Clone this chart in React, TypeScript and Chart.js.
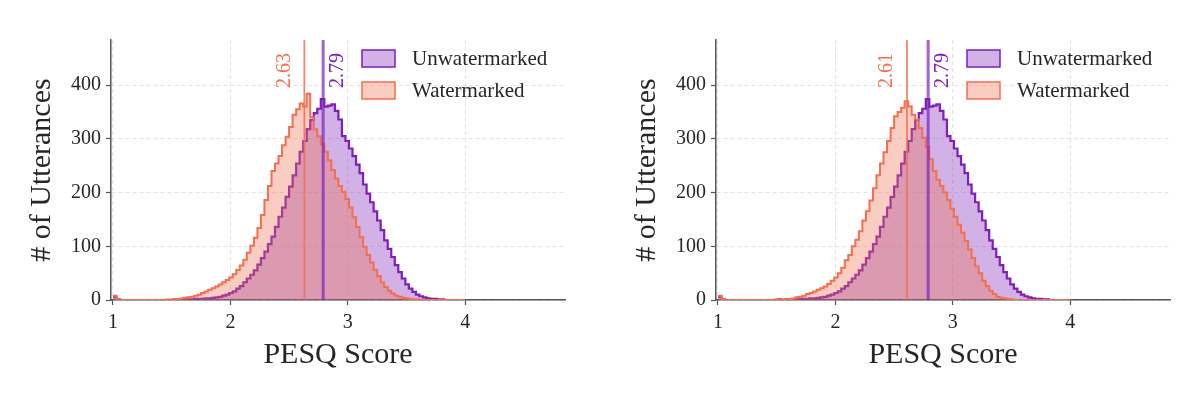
import React, { useEffect, useRef } from 'react';
import { Chart, registerables } from 'chart.js';

Chart.register(...registerables);

// ---- data ----
const BIN_START = 1.0;
const BIN_WIDTH = 0.03;

// counts per bin (bins of 0.03 starting at 1.00)
const UNWATERMARKED = [
  6, 1, 0, 0, 0, 0, 0, 0, 0, 0,
  0, 0, 0, 0, 0, 0, 0, 1, 0, 1,
  1, 1, 1, 2, 2, 2, 3, 3, 4, 5,
  6, 8, 10, 13, 16, 21, 26, 33, 40, 47,
  55, 66, 78, 90, 104, 118, 136, 155, 172, 192,
  211, 232, 254, 276, 296, 318, 335, 348, 356, 374,
  360, 362, 364, 352, 336, 305, 296, 282, 268, 252,
  236, 215, 198, 182, 165, 148, 130, 111, 95, 80,
  65, 52, 40, 29, 21, 15, 10, 7, 5, 3,
  2, 2, 1, 1, 0, 0, 0, 0, 0, 0,
];

const WATERMARKED_A = [
  8, 1, 0, 0, 0, 0, 0, 0, 0, 0,
  0, 0, 0, 0, 0, 1, 1, 2, 2, 3,
  4, 5, 6, 8, 10, 13, 16, 19, 22, 25,
  29, 33, 37, 42, 48, 56, 64, 75, 88, 101,
  116, 134, 158, 186, 212, 240, 254, 268, 288, 304,
  322, 345, 355, 366, 360, 384, 340, 318, 305, 290,
  276, 260, 242, 226, 212, 201, 188, 172, 154, 136,
  117, 99, 84, 70, 56, 44, 33, 24, 17, 12,
  8, 6, 4, 3, 2, 1, 1, 0, 0, 0,
  0, 0, 0, 0, 0, 0, 0, 0, 0, 0,
];

const WATERMARKED_B = [
  8, 1, 0, 0, 0, 0, 0, 0, 0, 0,
  0, 0, 0, 0, 0, 0, 1, 1, 1, 2,
  2, 3, 5, 6, 8, 11, 13, 16, 19, 22,
  25, 30, 36, 42, 50, 60, 74, 84, 100, 112,
  128, 148, 165, 185, 208, 232, 254, 275, 296, 320,
  342, 350, 358, 370, 360, 345, 336, 320, 302, 285,
  262, 240, 224, 212, 200, 186, 170, 155, 140, 125,
  110, 94, 78, 63, 50, 36, 26, 17, 11, 6,
  4, 3, 2, 1, 0, 0, 0, 0, 0, 0,
  0, 0, 0, 0, 0, 0, 0, 0, 0, 0,
];

const MEAN_UNWM = 2.79;
const MEAN_WM_A = 2.63;
const MEAN_WM_B = 2.61;

const X_TICKS = [1, 2, 3, 4];
const Y_TICKS = [0, 100, 200, 300, 400];
const X_MIN = 0.983;
const X_MAX = 4.85;
const Y_MIN = 0;
const Y_MAX = 484;

const LABEL_UNWM = 'Unwatermarked';
const LABEL_WM = 'Watermarked';
const X_TITLE = 'PESQ Score';
const Y_TITLE = '# of Utterances';

// ---- styles ----
const FONT = "'Liberation Serif', 'Times New Roman', serif";
const PURPLE = '#7E1FB8';
const PURPLE_FILL = 'rgba(126,31,184,0.35)';
const ORANGE = '#F07050';
const ORANGE_FILL = 'rgba(240,112,80,0.35)';
const TEXT = '#262626';
const SPINE = '#555555';
const GRID = 'rgba(0,0,0,0.11)';

const CANVAS_W = 600;
const CANVAS_H = 413;
const PLOT_W = 454;
const PLOT_TOP = 40;
const X_AXIS_H = 113;

function histPoints(values: number[]) {
  const pts = values.map((v, i) => ({ x: +(BIN_START + i * BIN_WIDTH).toFixed(4), y: v }));
  pts.push({ x: +(BIN_START + values.length * BIN_WIDTH).toFixed(4), y: 0 });
  return pts;
}

function makeOverlay(wmMean: number) {
  return {
    id: 'overlay',
    afterDraw(chart: any) {
      const { ctx, chartArea, scales } = chart;
      const xs = scales.x;
      // mean labels
      const labels = [
        { v: wmMean, dx: -20, color: ORANGE },
        { v: MEAN_UNWM, dx: 15, color: PURPLE },
      ];
      for (const l of labels) {
        const x = xs.getPixelForValue(l.v) + l.dx;
        const y = chartArea.top + 48;
        ctx.save();
        ctx.translate(x, y);
        ctx.rotate(-Math.PI / 2);
        ctx.font = `20px ${FONT}`;
        ctx.fillStyle = l.color;
        ctx.textAlign = 'left';
        ctx.textBaseline = 'middle';
        ctx.fillText(l.v.toFixed(2), 0, 0);
        ctx.restore();
      }
      // legend
      const entries = [
        { text: LABEL_UNWM, fill: PURPLE_FILL, stroke: PURPLE },
        { text: LABEL_WM, fill: ORANGE_FILL, stroke: ORANGE },
      ];
      const px = chartArea.right - 203;
      entries.forEach((e, i) => {
        const py = chartArea.top + 10 + i * 32;
        ctx.save();
        ctx.beginPath();
        ctx.rect(px, py, 33, 17);
        ctx.fillStyle = e.fill;
        ctx.fill();
        ctx.lineWidth = 1.5;
        ctx.strokeStyle = e.stroke;
        ctx.stroke();
        ctx.font = `21px ${FONT}`;
        ctx.fillStyle = TEXT;
        ctx.textAlign = 'left';
        ctx.textBaseline = 'middle';
        ctx.fillText(e.text, px + 50, py + 9);
        ctx.restore();
      });
    },
  };
}

function makeConfig(wmValues: number[], wmMean: number, yw: number): any {
  return {
    type: 'line',
    data: {
      datasets: [
        {
          label: 'mean-unwm',
          data: [{ x: MEAN_UNWM, y: Y_MIN }, { x: MEAN_UNWM, y: Y_MAX }],
          borderColor: 'rgba(126,31,184,0.7)',
          borderWidth: 3,
          pointRadius: 0,
          fill: false,
          order: 0,
        },
        {
          label: 'mean-wm',
          data: [{ x: wmMean, y: Y_MIN }, { x: wmMean, y: Y_MAX }],
          borderColor: 'rgba(240,112,80,0.85)',
          borderWidth: 1.8,
          pointRadius: 0,
          fill: false,
          order: 0,
        },
        {
          label: LABEL_WM,
          data: histPoints(wmValues),
          borderColor: ORANGE,
          backgroundColor: ORANGE_FILL,
          fill: 'origin',
          stepped: true,
          borderWidth: 2,
          pointRadius: 0,
          order: 1,
        },
        {
          label: LABEL_UNWM,
          data: histPoints(UNWATERMARKED),
          borderColor: PURPLE,
          backgroundColor: PURPLE_FILL,
          fill: 'origin',
          stepped: true,
          borderWidth: 2.2,
          pointRadius: 0,
          order: 2,
        },
      ],
    },
    options: {
      responsive: false,
      animation: false,
      events: [],
      layout: {
        padding: { top: PLOT_TOP, right: CANVAS_W - yw - PLOT_W, left: 0, bottom: 0 },
      },
      plugins: {
        legend: { display: false },
        tooltip: { enabled: false },
      },
      scales: {
        x: {
          type: 'linear',
          min: X_MIN,
          max: X_MAX,
          afterBuildTicks: (axis: any) => {
            axis.ticks = X_TICKS.map((v) => ({ value: v }));
          },
          afterFit: (s: any) => {
            s.height = X_AXIS_H;
          },
          grid: {
            color: GRID,
            lineWidth: 1,
            tickLength: 5,
            tickColor: SPINE,
            tickWidth: 1.2,
            tickBorderDash: [],
          },
          border: { display: true, color: SPINE, width: 1.5, dash: [4, 3] },
          ticks: {
            font: { family: FONT, size: 20 },
            color: TEXT,
            padding: 6,
            maxRotation: 0,
            callback: (v: number) => String(v),
          },
          title: {
            display: true,
            text: X_TITLE,
            font: { family: FONT, size: 30 },
            color: TEXT,
            padding: { top: 0, bottom: 40 },
          },
        },
        y: {
          type: 'linear',
          min: Y_MIN,
          max: Y_MAX,
          afterBuildTicks: (axis: any) => {
            axis.ticks = Y_TICKS.map((v) => ({ value: v }));
          },
          afterFit: (s: any) => {
            s.width = yw;
          },
          grid: {
            color: GRID,
            lineWidth: 1,
            tickLength: 5,
            tickColor: SPINE,
            tickWidth: 1.2,
            tickBorderDash: [],
          },
          border: { display: true, color: SPINE, width: 1.5, dash: [4, 3] },
          ticks: {
            font: { family: FONT, size: 20 },
            color: TEXT,
            padding: 5,
            callback: (v: number) => String(v),
          },
          title: {
            display: true,
            text: Y_TITLE,
            font: { family: FONT, size: 30 },
            color: TEXT,
            padding: { top: yw - 87, bottom: 0 },
          },
        },
      },
    },
    plugins: [makeOverlay(wmMean)],
  };
}

function Panel(props: { wm: number[]; wmMean: number; yw: number; left: number }) {
  const ref = useRef<HTMLCanvasElement>(null);
  useEffect(() => {
    const chart = new Chart(ref.current as HTMLCanvasElement, makeConfig(props.wm, props.wmMean, props.yw));
    return () => chart.destroy();
  }, []);
  return (
    <canvas
      ref={ref}
      width={CANVAS_W}
      height={CANVAS_H}
      style={{ position: 'absolute', left: props.left, top: 0, width: CANVAS_W, height: CANVAS_H }}
    />
  );
}

export default function App() {
  return (
    <div style={{ position: 'fixed', left: 0, top: 0, width: 1200, height: 413, background: '#ffffff' }}>
      <Panel wm={WATERMARKED_A} wmMean={MEAN_WM_A} yw={111} left={0} />
      <Panel wm={WATERMARKED_B} wmMean={MEAN_WM_B} yw={116} left={600} />
    </div>
  );
}
